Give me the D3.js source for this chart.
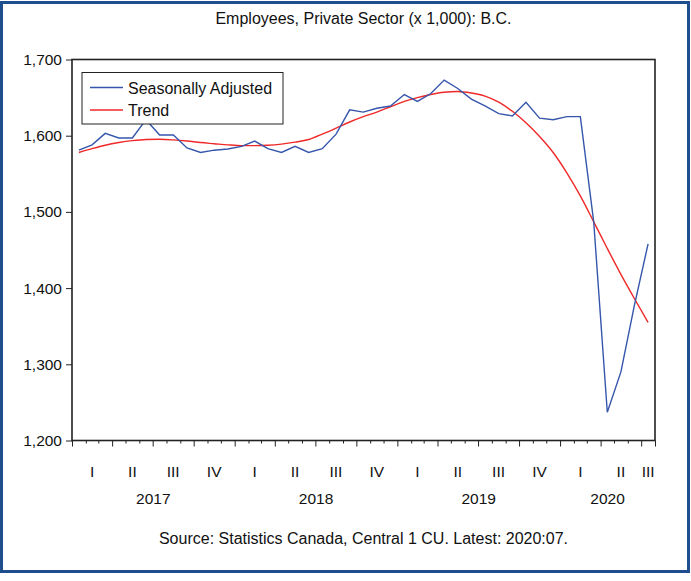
<!DOCTYPE html>
<html>
<head>
<meta charset="utf-8">
<script src="https://cdn.jsdelivr.net/npm/d3@7"></script>
<style>
  html, body { margin: 0; padding: 0; background: #ffffff; }
  svg { display: block; }
  text { font-family: "Liberation Sans", Arial, sans-serif; fill: #111; }
</style>
</head>
<body>
<svg id="chart" width="691" height="581"></svg>
<script>
// ---- data (monthly, Jan 2017 - Jul 2020) ----
const startYear = 2017;
const seasonallyAdjusted = [
  1581, 1588, 1603, 1597, 1597, 1621, 1601, 1601, 1584, 1578, 1581, 1582.5,
  1586, 1593, 1583, 1578, 1586, 1578, 1583, 1602, 1634, 1631, 1636, 1639,
  1654, 1645, 1655, 1673, 1662, 1648, 1639, 1629, 1626, 1644, 1623, 1621,
  1625, 1625, 1487, 1237, 1290, 1378, 1458
];
const trend = [
  1578, 1583, 1587.5, 1591, 1593.5, 1595, 1595.3, 1594.5, 1593, 1591, 1589.5, 1588,
  1587, 1587, 1587.5, 1589, 1591.5, 1595, 1602, 1610, 1618, 1625, 1631, 1638,
  1645, 1650, 1654, 1657, 1658, 1656, 1652, 1644, 1632, 1617, 1599, 1578,
  1551, 1521, 1487, 1452, 1418, 1386, 1355
];
const yTicks = [1200, 1300, 1400, 1500, 1600, 1700];
const quarterLabels = ["I", "II", "III", "IV"];
const seriesNames = ["Seasonally Adjusted", "Trend"];
const titleText = "Employees, Private Sector (x 1,000): B.C.";
const sourceText = "Source: Statistics Canada, Central 1 CU. Latest: 2020:07.";

// ---- layout ----
const svg = d3.select("#chart");
const pLeft = 72, pRight = 655, pTop = 59.5, pBottom = 440.5;
const nMonths = seasonallyAdjusted.length;
const dates = d3.range(nMonths).map(i => new Date(startYear, i, 1));
const endDate = new Date(startYear, nMonths, 1);

const x = d3.scaleTime().domain([dates[0], endDate]).range([pLeft, pRight]);
const y = d3.scaleLinear().domain([1200, 1700]).range([pBottom, pTop]);
const midMonth = d => new Date((+d + +d3.timeMonth.offset(d, 1)) / 2);

// outer frame
svg.append("rect")
  .attr("x", 1.5).attr("y", 2.5).attr("width", 687).attr("height", 569)
  .attr("fill", "#ffffff").attr("stroke", "#1f4e8f").attr("stroke-width", 3);

// title
svg.append("text")
  .attr("x", (pLeft + pRight) / 2).attr("y", 24)
  .attr("text-anchor", "middle").attr("font-size", 16)
  .text(titleText);

// y axis
const yAxis = d3.axisLeft(y).tickValues(yTicks).tickSize(6).tickPadding(4)
  .tickFormat(d3.format(","));
const gy = svg.append("g").attr("transform", `translate(${pLeft},0)`).call(yAxis);
gy.select(".domain").remove();
gy.selectAll("line").attr("stroke", "#222").attr("stroke-width", 1);
gy.selectAll("text").attr("font-size", 15.5).attr("font-family", "Liberation Sans, Arial, sans-serif").attr("fill", "#111");

// x axis: monthly minor ticks, quarterly major ticks
const monthTicks = d3.timeMonth.range(dates[0], d3.timeMonth.offset(endDate, 1));
const xAxis = d3.axisBottom(x).tickValues(monthTicks).tickSize(3).tickFormat("");
const gx = svg.append("g").attr("transform", `translate(0,${pBottom})`).call(xAxis);
gx.select(".domain").remove();
gx.selectAll(".tick line")
  .attr("stroke", "#222").attr("stroke-width", 1)
  .attr("y2", d => (d.getMonth() % 3 === 0 || +d === +endDate) ? 6 : 3);

// quarter labels
const quarters = [];
for (let i = 0; i < nMonths; i += 3) {
  const s = dates[i];
  const e = d3.min([d3.timeMonth.offset(s, 3), endDate]);
  quarters.push({ s, e, label: quarterLabels[Math.floor(s.getMonth() / 3)] });
}
svg.append("g").selectAll("text").data(quarters).join("text")
  .attr("x", d => (x(d.s) + x(d.e)) / 2).attr("y", 477)
  .attr("text-anchor", "middle").attr("font-size", 15.5)
  .text(d => d.label);

// year labels
const years = d3.range(startYear, endDate.getFullYear() + 1).map(yr => ({
  yr, s: d3.max([new Date(yr, 0, 1), dates[0]]), e: d3.min([new Date(yr + 1, 0, 1), endDate])
}));
svg.append("g").selectAll("text").data(years).join("text")
  .attr("x", d => (x(d.s) + x(d.e)) / 2).attr("y", 504)
  .attr("text-anchor", "middle").attr("font-size", 15.5)
  .text(d => d.yr);

// series lines
const line = d3.line().x((d, i) => x(midMonth(dates[i]))).y(d => y(d));
svg.append("path").datum(trend)
  .attr("fill", "none").attr("stroke", "#f02828").attr("stroke-width", 1.4)
  .attr("d", d3.line().curve(d3.curveMonotoneX).x((d, i) => x(midMonth(dates[i]))).y(d => y(d)));
svg.append("path").datum(seasonallyAdjusted)
  .attr("fill", "none").attr("stroke", "#3656ac").attr("stroke-width", 1.4)
  .attr("d", line);

// plot frame
svg.append("rect")
  .attr("x", pLeft).attr("y", pTop).attr("width", pRight - pLeft).attr("height", pBottom - pTop)
  .attr("fill", "none").attr("stroke", "#222").attr("stroke-width", 1.6);

// legend
const lg = svg.append("g");
lg.append("rect").attr("x", 82).attr("y", 72.5).attr("width", 201).attr("height", 51.5)
  .attr("fill", "#ffffff").attr("stroke", "#222").attr("stroke-width", 1);
const legendColors = ["#3656ac", "#f02828"];
seriesNames.forEach((name, k) => {
  const yy = 87.5 + k * 22.5;
  lg.append("line").attr("x1", 90).attr("x2", 123).attr("y1", yy).attr("y2", yy)
    .attr("stroke", legendColors[k]).attr("stroke-width", 1.4);
  lg.append("text").attr("x", 128).attr("y", yy + 6).attr("font-size", 16).text(name);
});

// source note
svg.append("text")
  .attr("x", (pLeft + pRight) / 2).attr("y", 544)
  .attr("text-anchor", "middle").attr("font-size", 16)
  .text(sourceText);
</script>
</body>
</html>
